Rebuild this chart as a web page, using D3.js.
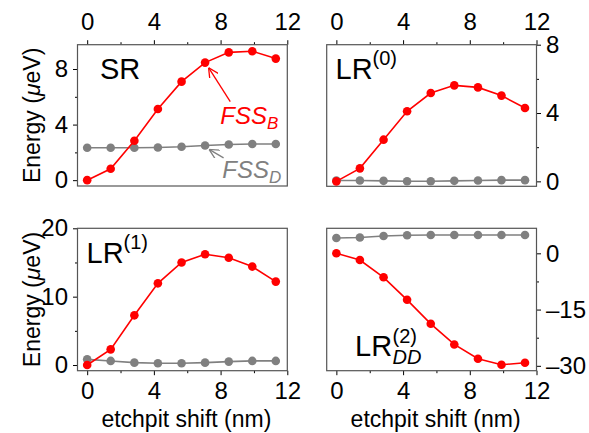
<!DOCTYPE html>
<html>
<head>
<meta charset="utf-8">
<script src="https://cdn.jsdelivr.net/npm/d3@7"></script>
<style>
   body { margin: 0; background: #fff; }
   svg { display: block; font-family: "Liberation Sans", Arial, sans-serif; }
</style>
</head>
<body>
<script>
"use strict"

// etchpit shift (nm)
const shifts = [0, 1.41, 2.83, 4.24, 5.66, 7.07, 8.49, 9.9, 11.31]

// energies (ueV), bright (red) and dark (gray) fine structure splitting
const srB = [0, 0.82, 2.84, 5.12, 7.09, 8.46, 9.2, 9.28, 8.75]
const srD = [2.33, 2.33, 2.33, 2.35, 2.4, 2.5, 2.57, 2.6, 2.6]
const lr0B = [0, 0.76, 2.44, 4.1, 5.17, 5.62, 5.5, 5.02, 4.29]
const lr0D = [0.05, 0.05, 0.03, 0.01, 0.01, 0.03, 0.05, 0.07, 0.07]
const lr1B = [0, 2.29, 7.27, 11.95, 15.0, 16.2, 15.7, 14.4, 12.2]
const lr1D = [0.83, 0.6, 0.35, 0.25, 0.25, 0.35, 0.5, 0.6, 0.6]
const lr2B = [0, -1.8, -6.4, -12.4, -18.8, -24.3, -28.1, -29.7, -29.2]
const lr2D = [4.1, 4.2, 4.6, 4.8, 4.9, 4.9, 4.9, 4.9, 4.9]

const xTicks = [0, 4, 8, 12]
const xMinor = [2, 6, 10]

const W = 589, H = 433
const red = '#ff0000', gray = '#808080'
const tickFont = 24

const svg = d3.select('body').append('svg')
   .attr('width', W)
   .attr('height', H)

const panels = [
   { l: 77.5, t: 44.7, b: 186, yDom: [-0.42, 9.75], yTicks: [0, 4, 8], yMinor: [2, 6],
     ySide: 'left', xSide: 'top', bright: srB, dark: srD },
   { l: 326.7, t: 44.7, b: 186.3, yDom: [-0.29, 8], yTicks: [0, 4, 8], yMinor: [2, 6],
     ySide: 'right', xSide: 'top', bright: lr0B, dark: lr0D },
   { l: 77.5, t: 228.3, b: 370.7, yDom: [-0.83, 20], yTicks: [0, 10, 20], yMinor: [5, 15],
     ySide: 'left', xSide: 'bottom', bright: lr1B, dark: lr1D },
   { l: 326.7, t: 228.3, b: 370.7, yDom: [-31.3, 6.67], yTicks: [0, -15, -30], yMinor: [-7.5, -22.5],
     ySide: 'right', xSide: 'bottom', bright: lr2B, dark: lr2D }
]
const pw = 209.8

const styleAxis = g => {
   g.select('.domain').remove()
   g.selectAll('line').attr('stroke', '#000').attr('stroke-width', 1)
   g.selectAll('text').attr('font-size', tickFont).attr('fill', '#000')
      .attr('font-family', '"Liberation Sans", Arial, sans-serif')
}

panels.forEach(p => {
   p.x = d3.scaleLinear([-0.58, 12], [p.l, p.l + pw])
   p.y = d3.scaleLinear(p.yDom, [p.b, p.t])
   const g = svg.append('g')

   // x axis
   const xAx = p.xSide === 'top' ? d3.axisTop(p.x) : d3.axisBottom(p.x)
   const xMin = p.xSide === 'top' ? d3.axisTop(p.x) : d3.axisBottom(p.x)
   const xY = p.xSide === 'top' ? p.t : p.b
   g.append('g').attr('transform', `translate(0,${xY})`)
      .call(xAx.tickValues(xTicks).tickSize(4.5).tickPadding(p.xSide === 'top' ? 10 : 7).tickFormat(d3.format('d')))
      .call(styleAxis)
   g.append('g').attr('transform', `translate(0,${xY})`)
      .call(xMin.tickValues(xMinor).tickSize(2.5).tickFormat(''))
      .call(styleAxis)

   // y axis
   const yAx = p.ySide === 'left' ? d3.axisLeft(p.y) : d3.axisRight(p.y)
   const yMin = p.ySide === 'left' ? d3.axisLeft(p.y) : d3.axisRight(p.y)
   const yX = p.ySide === 'left' ? p.l : p.l + pw
   g.append('g').attr('transform', `translate(${yX},0)`)
      .call(yAx.tickValues(p.yTicks).tickSize(4.5).tickPadding(5)
         .tickFormat(d => d < 0 ? '\u2013' + Math.abs(d) : d))
      .call(styleAxis)
   g.append('g').attr('transform', `translate(${yX},0)`)
      .call(yMin.tickValues(p.yMinor).tickSize(2.5).tickFormat(''))
      .call(styleAxis)

   // frame
   g.append('rect')
      .attr('x', p.l).attr('y', p.t)
      .attr('width', pw).attr('height', p.b - p.t)
      .attr('fill', 'none').attr('stroke', '#555').attr('stroke-width', 1.2)

   const line = d3.line().x((d, i) => p.x(shifts[i])).y(d => p.y(d))
   ;[[p.dark, gray], [p.bright, red]].forEach(([vals, col]) => {
      g.append('path').datum(vals)
         .attr('d', line)
         .attr('fill', 'none').attr('stroke', col).attr('stroke-width', 1.6)
      g.selectAll(null).data(vals).enter().append('circle')
         .attr('cx', (d, i) => p.x(shifts[i]))
         .attr('cy', d => p.y(d))
         .attr('r', 4.3)
         .attr('fill', col)
   })
})

// y axis titles
;[panels[0], panels[2]].forEach(p => {
   svg.append('text')
      .attr('transform', `translate(40,${(p.t + p.b) / 2}) rotate(-90)`)
      .attr('text-anchor', 'middle')
      .attr('font-size', 23)
      .html('Energy (<tspan font-style="italic">\u03bc</tspan>eV)')
})

// x axis titles
;[panels[2], panels[3]].forEach(p => {
   svg.append('text')
      .attr('x', p.l + pw / 2 + 4)
      .attr('y', 426.5)
      .attr('text-anchor', 'middle')
      .attr('font-size', 23)
      .text('etchpit shift (nm)')
})

// panel labels
const lab = (x, y, txt) => svg.append('text').attr('x', x).attr('y', y).attr('font-size', 29).text(txt)
lab(100, 78.5, 'SR')
lab(335.5, 78.5, 'LR').append('tspan').attr('font-size', 20).attr('dy', -14).text('(0)')
lab(86.5, 263, 'LR').append('tspan').attr('font-size', 20).attr('dy', -14).text('(1)')
lab(355, 356, 'LR')
svg.append('text').attr('x', 392.5).attr('y', 342.5).attr('font-size', 20).text('(2)')
svg.append('text').attr('x', 392.5).attr('y', 363.5).attr('font-size', 20).attr('font-style', 'italic').text('DD')

// FSS annotations in SR panel
const sr = panels[0]
svg.append('defs').selectAll('marker')
   .data([['arrRed', red], ['arrGray', gray]])
   .enter().append('marker')
      .attr('id', d => d[0])
      .attr('viewBox', '0 0 10 10')
      .attr('refX', 10).attr('refY', 5)
      .attr('markerWidth', 10).attr('markerHeight', 10)
      .attr('markerUnits', 'userSpaceOnUse')
      .attr('orient', 'auto')
   .append('path')
      .attr('d', 'M0,0 L10,5 L0,10')
      .attr('fill', 'none')
      .attr('stroke', d => d[1])
      .attr('stroke-width', 1.3)

svg.append('line')
   .attr('x1', sr.x(8.58)).attr('y1', sr.y(5.66))
   .attr('x2', sr.x(shifts[5]) + 3.5).attr('y2', sr.y(srB[5]) + 5)
   .attr('stroke', red).attr('stroke-width', 1.3)
   .attr('marker-end', 'url(#arrRed)')
svg.append('line')
   .attr('x1', sr.x(8.18)).attr('y1', sr.y(1.6))
   .attr('x2', sr.x(shifts[5]) + 4).attr('y2', sr.y(srD[5]) + 4)
   .attr('stroke', gray).attr('stroke-width', 1.3)
   .attr('marker-end', 'url(#arrGray)')

const fss = (x, y, sub, col) => {
   const t = svg.append('text')
      .attr('x', sr.x(x)).attr('y', sr.y(y))
      .attr('font-size', 24).attr('font-style', 'italic').attr('fill', col)
      .text('FSS')
   t.append('tspan').attr('font-size', 17).attr('dy', 5).text(sub)
}
fss(7.98, 4.06, 'B', red)
fss(8.1, 0.17, 'D', gray)
</script>
</body>
</html>
